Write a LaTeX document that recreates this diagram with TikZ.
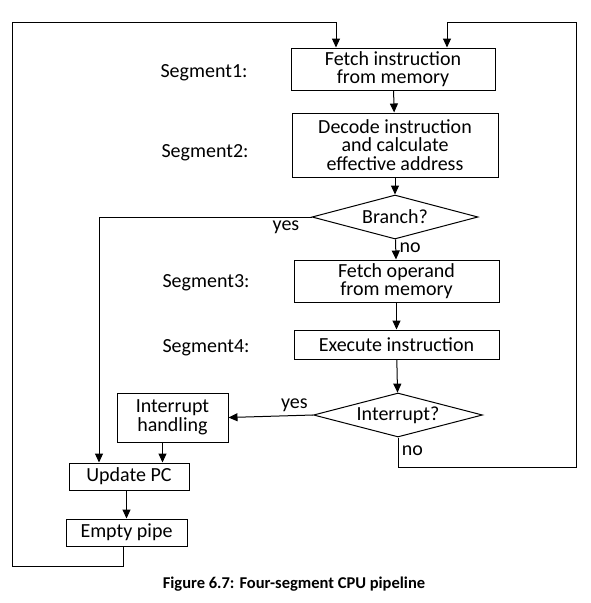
\documentclass[tikz,border=0pt]{standalone}
\usepackage{fontspec}
\setmainfont{Carlito}
\usetikzlibrary{shapes.geometric,arrows.meta}

\begin{document}
\begin{tikzpicture}[x=1pt,y=-1pt,line width=1pt,
    font=\fontsize{20}{18.5}\selectfont,
    box/.style={draw,rectangle,align=center,inner sep=1pt},
    test/.style={draw,diamond,aspect=3.8,inner sep=0pt},
    arr/.style={-{Triangle[width=8pt,length=9pt]}}]

      \useasboundingbox (0,0) rectangle (590,603);

      \begin{scope}[every node/.style={box}]
        \node[minimum width=204,minimum height=42] (fetch)   at (393,69)    {Fetch instruction\\from memory};
        \node[minimum width=206,minimum height=64] (decode)  at (395,145)   {Decode instruction\\and calculate\\effective address};
        \node[minimum width=205,minimum height=42] (operand) at (396.5,281) {Fetch operand\\from memory};
        \node[minimum width=205,minimum height=29] (exec)    at (396.5,344.5) {Execute instruction};
        \node[minimum width=111,minimum height=49] (handle)  at (172.5,417.5) {Interrupt\\handling};
        \node[minimum width=120,minimum height=27] (update)  at (129,476.5) {Update PC};
        \node[minimum width=121,minimum height=27] (empty)   at (126.5,532.5) {Empty pipe};
      \end{scope}

      \node[test,minimum width=166,minimum height=44] (branch) at (395,217) {Branch?};
      \node[test,minimum width=169,minimum height=44] (intr)   at (398,415) {Interrupt?};

      \node (seg1) at (204,73)  {Segment1:};
      \node (seg2) at (205,153) {Segment2:};
      \node (seg3) at (206,283) {Segment3:};
      \node (seg4) at (206,348) {Segment4:};

      \coordinate (yes1) at (99,217);
      \coordinate (low1) at (123,566);
      \coordinate (low2) at (12,566);
      \coordinate (top1) at (12,22);
      \coordinate (top2) at (576,22);
      \coordinate (low3) at (576,467);

      \draw[arr] (fetch) -- (decode);
      \draw[arr] (decode) -- (branch);
      \draw[arr] (branch) -- node[right,pos=.4] {no} (operand);
      \draw[arr] (operand) -- (exec);
      \draw[arr] (exec) -- (intr);
      \draw[arr] (branch.west) -- node[below,pos=.12] {yes} (yes1) -- (yes1 |- update.north);
      \draw[arr] (intr.west) -- node[above,pos=.22] {yes} (handle.east);
      \draw[arr] ([xshift=-10pt]handle.south) -- ([xshift=-10pt]handle.south |- update.north);
      \draw[arr] (update.south -| empty) -- (empty);

      % loops back to the fetch stage
      \draw[arr] (empty.south -| low1) -- (low1) -- (low2) -- (top1) -- ([xshift=-57pt]fetch.north |- top1) -- ([xshift=-57pt]fetch.north);
      \draw[arr] (intr.south) -- node[right,pos=.45] {no} (intr.south |- low3) -- (low3) -- (top2) -- ([xshift=54pt]fetch.north |- top2) -- ([xshift=54pt]fetch.north);

      \node[font=\bfseries\fontsize{16.5}{18}\selectfont] (caption) at (294,584) {Figure 6.7: Four-segment CPU pipeline};

    \end{tikzpicture}
\end{document}
